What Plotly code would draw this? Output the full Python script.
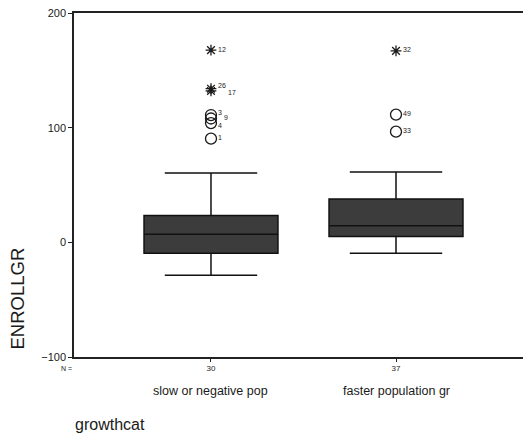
import plotly.graph_objects as go

categories = ["slow or negative pop", "faster population gr"]
n_counts = ["30", "37"]
q1 = [-9.6, 5.0]
median = [7.0, 14.4]
q3 = [23.4, 37.7]
lower_whisker = [-28.6, -9.6]
upper_whisker = [60.5, 61.4]

# outliers: group index, value, case label
circle_group = [0, 0, 0, 0, 1, 1]
circle_value = [111.0, 108.0, 104.0, 90.4, 111.4, 96.5]
circle_label = ["3", "9", "4", "1", "49", "33"]
star_group = [0, 0, 0, 1]
star_value = [167.6, 134.0, 132.0, 167.0]
star_label = ["12", "26", "17", "32"]

y_ticks = [-100, 0, 100, 200]

FONT = "Liberation Sans, Arial, sans-serif"
INK = "#1a1a1a"

fig = go.Figure()
for i in range(len(categories)):
    fig.add_trace(go.Box(
        x=[i], q1=[q1[i]], median=[median[i]], q3=[q3[i]],
        lowerfence=[lower_whisker[i]], upperfence=[upper_whisker[i]],
        width=0.724, whiskerwidth=0.69,
        fillcolor="#3c3c3c", line=dict(color="#111111", width=1.5),
        boxpoints=False, showlegend=False, hoverinfo="skip",
    ))

fig.add_trace(go.Scatter(
    x=circle_group, y=circle_value, mode="markers",
    marker=dict(symbol="circle-open", size=11, color=INK, line=dict(width=1.3)),
    showlegend=False, cliponaxis=False,
))
fig.add_trace(go.Scatter(
    x=star_group, y=star_value, mode="markers",
    marker=dict(symbol="asterisk-open", size=9, color=INK, line=dict(width=1.3)),
    showlegend=False, cliponaxis=False,
))

# case labels beside the outlier markers (small nudges keep crowded ones legible)
label_group = circle_group + star_group
label_value = circle_value + star_value
label_text = circle_label + star_label
label_dx = [5, 11, 5, 5, 5, 5, 5, 5, 15, 5]
label_dy = [3, 1, -2, 1, 1, 1, 1, 3, -2, 1]
for g, v, lab, dx, dy in zip(label_group, label_value, label_text, label_dx, label_dy):
    fig.add_annotation(x=g, y=v, xref="x", yref="y", text=lab, showarrow=False,
                       xanchor="left", yanchor="middle", xshift=dx, yshift=dy,
                       font=dict(family=FONT, size=7, color=INK))

for i, c in enumerate(categories):
    fig.add_annotation(x=i, y=-0.099, xref="x", yref="paper", text=c,
                       showarrow=False, yanchor="middle",
                       font=dict(family=FONT, size=12.5, color=INK))
fig.add_annotation(x=-0.0156, y=-0.032, xref="paper", yref="paper", text="N =",
                   showarrow=False, xanchor="center", yanchor="middle",
                   font=dict(family=FONT, size=7, color=INK))
fig.add_annotation(x=-0.003, y=-0.195, xref="paper", yref="paper", text="growthcat",
                   showarrow=False, xanchor="left", yanchor="middle",
                   font=dict(family=FONT, size=16, color=INK))
fig.add_annotation(x=-0.1247, y=0.17, xref="paper", yref="paper", text="ENROLLGR",
                   textangle=-90, showarrow=False, xanchor="center", yanchor="middle",
                   font=dict(family=FONT, size=18.5, color=INK))

fig.update_layout(
    width=523, height=441,
    margin=dict(l=74, r=0, t=13, b=84),
    paper_bgcolor="white", plot_bgcolor="white",
    font=dict(family=FONT, color=INK),
    xaxis=dict(range=[-0.7405, 1.6865], tickvals=[0, 1], ticktext=n_counts,
               showline=True, mirror=True, linecolor="#222", linewidth=1.5,
               ticks="outside", ticklen=3, tickcolor="#222",
               tickfont=dict(family=FONT, size=8, color=INK),
               showgrid=False, zeroline=False),
    yaxis=dict(range=[-100, 200], tickvals=y_ticks,
               showline=True, linecolor="#222", linewidth=1.5,
               ticks="outside", ticklen=4, tickcolor="#222",
               tickfont=dict(family=FONT, size=11, color=INK),
               showgrid=False, zeroline=False),
)

fig.write_html("out.html", config={"displayModeBar": False},
               post_script="document.body.style.margin='0';")
